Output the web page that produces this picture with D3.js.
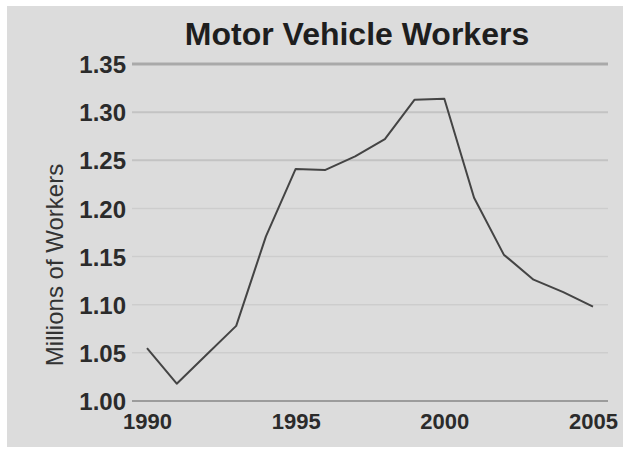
<!DOCTYPE html>
<meta charset="utf-8">
<style>
    body { margin: 0; background: #fff; }
    text { font-family: "Liberation Sans", Arial, sans-serif; }
</style>
<svg width="639" height="456"></svg>
<script src="https://d3js.org/d3.v7.min.js"></script>
<script>

    // data
    var years = [1990, 1991, 1992, 1993, 1994, 1995, 1996, 1997, 1998, 1999, 2000, 2001, 2002, 2003, 2004, 2005];
    var workers = [1.055, 1.018, 1.048, 1.078, 1.171, 1.241, 1.240, 1.254, 1.272, 1.313, 1.314, 1.211, 1.152, 1.126, 1.113, 1.098];
    var yTicks = [1.00, 1.05, 1.10, 1.15, 1.20, 1.25, 1.30, 1.35];
    var xTicks = [1990, 1995, 2000, 2005];

    var svg = d3.select("svg");

    // gray panel
    svg.append("rect")
        .attr("x", 7).attr("y", 6)
        .attr("width", 616).attr("height", 441)
        .attr("fill", "#dcdcdc");

    var x = d3.scaleLinear().domain([1990, 2005]).range([147, 593]);
    var y = d3.scaleLinear().domain([1.00, 1.35]).range([401, 64]);

    // grid lines, fading toward the bottom like the scan
    var gridStyle = function (d) {
        if (d === 1.35) return { c: "#a9a9a9", w: 3 };
        if (d === 1.00) return { c: "#9c9c9c", w: 2 };
        if (d >= 1.25) return { c: "#c3c3c3", w: 2 };
        return { c: "#cdcdcd", w: 1.5 };
    };

    svg.append("g").selectAll("line")
        .data(yTicks)
        .enter().append("line")
        .attr("x1", 132).attr("x2", 608)
        .attr("y1", function (d) { return y(d); })
        .attr("y2", function (d) { return y(d); })
        .attr("stroke", function (d) { return gridStyle(d).c; })
        .attr("stroke-width", function (d) { return gridStyle(d).w; });

    var yAxis = d3.axisLeft(y)
        .tickValues(yTicks)
        .tickSize(0)
        .tickPadding(0)
        .tickFormat(d3.format(".2f"));

    var gy = svg.append("g")
        .attr("transform", "translate(126,0)")
        .call(yAxis);
    gy.select(".domain").remove();
    gy.selectAll("text")
        .attr("dy", "0.36em")
        .style("font-size", "24px")
        .style("font-weight", "bold")
        .style("fill", "#2b2b2b");

    var xAxis = d3.axisBottom(x)
        .tickValues(xTicks)
        .tickSize(0)
        .tickPadding(0)
        .tickFormat(d3.format("d"));

    var gx = svg.append("g")
        .attr("transform", "translate(0,412)")
        .call(xAxis);
    gx.select(".domain").remove();
    gx.selectAll("text")
        .attr("dy", "0.75em")
        .style("font-size", "22px")
        .style("font-weight", "bold")
        .style("fill", "#2b2b2b");

    var line = d3.line()
        .x(function (d, i) { return x(years[i]); })
        .y(function (d) { return y(d); });

    svg.append("path")
        .datum(workers)
        .attr("fill", "none")
        .attr("stroke", "#444")
        .attr("stroke-width", 2)
        .attr("stroke-linejoin", "round")
        .attr("d", line);

    svg.append("text")
        .attr("x", 357).attr("y", 45)
        .attr("text-anchor", "middle")
        .style("font-size", "32px")
        .style("font-weight", "bold")
        .style("fill", "#1e1e1e")
        .text("Motor Vehicle Workers");

    svg.append("text")
        .attr("transform", "translate(63,265) rotate(-90)")
        .attr("text-anchor", "middle")
        .style("font-size", "24px")
        .style("fill", "#333")
        .text("Millions of Workers");

</script>
